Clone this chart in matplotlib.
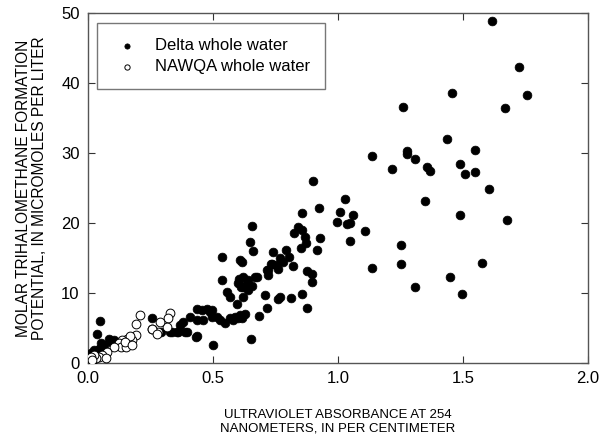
import matplotlib.pyplot as plt

plt.rcParams['font.family'] = ['Liberation Sans', 'DejaVu Sans']

# Delta whole water (filled)
delta_x = [1.617, 1.725, 1.456, 1.755, 1.259, 1.667, 1.437, 1.277, 1.277, 1.547, 1.307, 1.357, 1.368,
           1.487, 1.507, 1.548, 1.605, 1.347, 1.487, 1.676, 1.253, 1.253, 1.576, 1.447, 1.307, 1.497,
           1.137, 1.217, 0.901, 1.027, 0.856, 0.924, 1.007, 1.059, 0.995, 1.035, 1.048, 1.107, 1.047, 1.137,
           0.656, 0.839, 0.824, 0.856, 0.868, 0.872, 0.929, 0.852, 0.915, 0.649, 0.661, 0.741, 0.792, 0.768,
           0.805, 0.731, 0.761, 0.819, 0.721, 0.721, 0.875, 0.895, 0.895, 0.615, 0.621, 0.668, 0.641, 0.621,
           0.621, 0.707, 0.760, 0.768, 0.812, 0.855, 0.717, 0.685, 0.877, 0.628, 0.615, 0.651,
           0.608, 0.675, 0.715, 0.735, 0.568, 0.595, 0.581, 0.601,
           0.600, 0.610, 0.630, 0.640, 0.655, 0.605, 0.780, 0.750,
           0.535, 0.535, 0.555, 0.608, 0.588, 0.568, 0.548, 0.501, 0.528, 0.515, 0.488, 0.495, 0.455, 0.461,
           0.435, 0.408, 0.381, 0.368, 0.388, 0.355, 0.435, 0.475, 0.435, 0.495,
           0.255, 0.335, 0.361, 0.395, 0.328, 0.432, 0.291,
           0.048, 0.037, 0.084, 0.051, 0.064, 0.011, 0.024, 0.004, 0.104, 0.090, 0.030, 0.020, 0.045]
delta_y = [48.8, 42.3, 38.6, 38.3, 36.6, 36.5, 32.0, 30.3, 29.9, 30.5, 29.2, 28.0, 27.5,
           28.4, 27.0, 27.3, 24.9, 23.1, 21.2, 20.4, 16.9, 14.2, 14.3, 12.3, 10.8, 9.9,
           29.6, 27.7, 26.0, 23.4, 21.5, 22.1, 21.6, 21.1, 20.1, 19.8, 20.0, 18.9, 17.4, 13.6,
           19.6, 19.5, 18.6, 19.0, 18.0, 17.2, 17.9, 16.5, 16.2, 17.3, 16.0, 15.8, 16.1, 15.0,
           15.1, 14.2, 13.5, 13.8, 13.3, 12.6, 13.2, 12.7, 11.6, 14.5, 12.3, 12.3, 11.9, 10.9,
           9.5, 9.7, 9.1, 9.5, 9.3, 9.8, 7.8, 6.7, 7.8, 7.0, 6.4, 3.5,
           14.7, 12.3, 13.3, 14.2, 9.5, 8.5, 6.1, 6.4,
           11.5, 10.8, 11.2, 10.4, 11.0, 12.0, 14.5, 14.0,
           15.1, 11.9, 10.2, 6.9, 6.6, 6.4, 5.7, 2.6, 6.1, 6.6, 7.3, 6.6, 7.6, 6.1,
           6.1, 6.6, 5.9, 5.4, 4.5, 4.5, 3.8, 7.7, 7.7, 7.6,
           6.4, 4.5, 4.5, 4.5, 4.5, 3.7, 4.5,
           6.0, 4.2, 3.5, 2.8, 2.6, 1.4, 1.9, 0.7, 3.3, 3.0, 1.2, 0.5, 2.0]

# NAWQA whole water (open)
nawqa_x = [0.328, 0.320, 0.315, 0.281, 0.255, 0.288, 0.206, 0.190, 0.257, 0.277, 0.191, 0.177, 0.157,
           0.137, 0.124, 0.131, 0.104, 0.151, 0.077, 0.057, 0.044, 0.031, 0.024, 0.011, 0.017, 0.071,
           0.168, 0.148, 0.175]
nawqa_y = [7.2, 6.4, 5.1, 4.5, 4.8, 5.9, 6.8, 5.6, 4.9, 4.2, 4.0, 3.3, 3.5,
           3.3, 2.8, 2.3, 2.3, 2.3, 1.6, 1.1, 0.9, 0.7, 1.1, 0.9, 0.4, 0.7,
           3.8, 3.0, 2.6]

fig = plt.figure(figsize=(6, 4.43), dpi=100)
ax = fig.add_axes([88/600, 1-363/443, 500/600, 350/443])

ax.scatter(delta_x, delta_y, s=40, color="black", edgecolors="black", linewidths=0.5,
           label="Delta whole water", zorder=3)
ax.scatter(nawqa_x, nawqa_y, s=40, facecolors="white", edgecolors="black", linewidths=0.7,
           label="NAWQA whole water", zorder=4)

ax.set_xlim(0, 2.0)
ax.set_ylim(0, 50)
ax.set_xticks([0.0, 0.5, 1.0, 1.5, 2.0])
ax.set_xticklabels(["0.0", "0.5", "1.0", "1.5", "2.0"])
ax.set_yticks([0, 10, 20, 30, 40, 50])
ax.tick_params(direction="in", length=5, width=0.8, top=True, right=True,
               labelsize=12, pad=6, colors="#333333", labelcolor="black")
for s in ax.spines.values():
    s.set_color("#555555")
    s.set_linewidth(1.0)

ax.set_xlabel("ULTRAVIOLET ABSORBANCE AT 254\nNANOMETERS, IN PER CENTIMETER", fontsize=9.5, labelpad=16)
ax.set_ylabel("MOLAR TRIHALOMETHANE FORMATION\nPOTENTIAL, IN MICROMOLES PER LITER", fontsize=11.2,
              labelpad=10, linespacing=1.1)

leg = ax.legend(loc="upper left", bbox_to_anchor=(0.018, 0.971), borderaxespad=0, fontsize=12,
                frameon=True, fancybox=False, markerscale=0.6, borderpad=0.9, labelspacing=0.35,
                handlelength=1.8, handletextpad=0.8)
leg.get_frame().set_edgecolor("#555555")
leg.get_frame().set_linewidth(1.0)

fig.savefig("out.png", dpi=100)
